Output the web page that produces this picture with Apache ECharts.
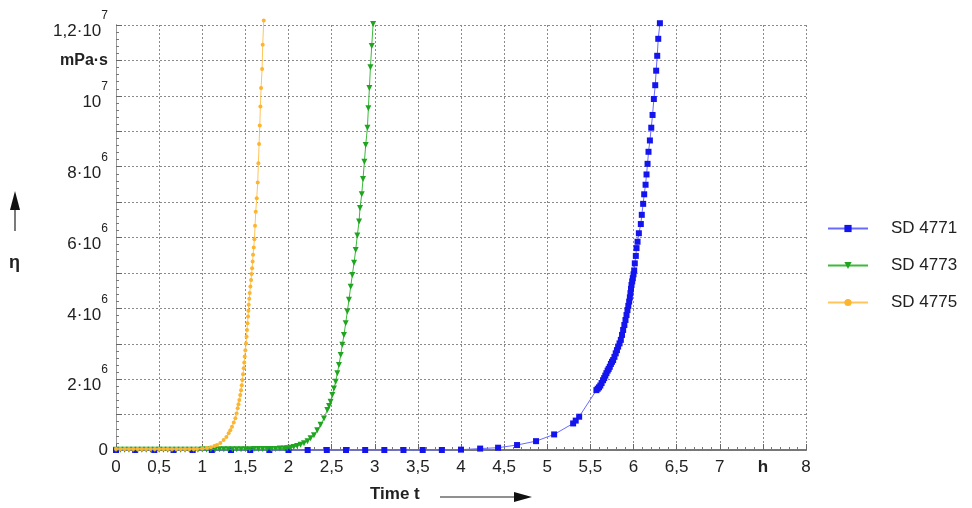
<!DOCTYPE html>
<html><head><meta charset="utf-8">
<script src="https://cdn.jsdelivr.net/npm/echarts@6/dist/echarts.min.js"></script>
<style>html,body{margin:0;padding:0;background:#fff}#c{width:972px;height:508px}</style>
</head><body><div id="c"></div>
<script>
// time in h, viscosity in 10^6 mPa·s
const sd4771_t = [0,0.222,0.444,0.667,0.889,1.111,1.333,1.556,1.778,2.0,2.222,2.444,2.667,2.889,3.111,3.333,3.556,3.778,4.0,4.222,4.43,4.65,4.87,5.08,5.30,5.33,5.37,
 5.570,5.585,5.600,5.615,5.630,5.647,5.660,5.673,5.686,5.700,5.712,5.725,5.738,5.751,5.764,5.779,5.794,5.808,5.822,5.838,5.853,5.867,5.880,5.894,5.907,5.919,5.930,5.940,5.950,5.958,5.965,5.971,5.977,5.985,5.992,6.000,6.008,6.015,6.027,6.035,6.047,6.062,
 6.085,6.096,6.112,6.124,6.140,6.151,6.163,6.174,6.190,6.206,6.221,6.236,6.252,6.263,6.275,6.287,6.306];
const sd4771_v = [0,0,0,0,0,0,0,0,0,0,0,0,0,0,0,0,0,0,0.01,0.04,0.065,0.14,0.25,0.44,0.75,0.83,0.94,
 1.69,1.73,1.77,1.82,1.89,1.97,2.03,2.10,2.17,2.24,2.29,2.35,2.43,2.49,2.54,2.63,2.73,2.82,2.92,3.01,3.11,3.25,3.39,3.53,3.67,3.81,3.95,4.07,4.19,4.31,4.43,4.55,4.66,4.76,4.85,4.96,5.07,5.27,5.48,5.70,5.88,6.12,
 6.38,6.64,6.95,7.22,7.49,7.78,8.08,8.42,8.74,9.10,9.46,9.91,10.30,10.71,11.13,11.61,12.05];

const sd4773_t = [0,0.05,0.1,0.15,0.2,0.25,0.3,0.35,0.4,0.45,0.5,0.55,0.6,0.65,0.7,0.75,0.8,0.85,0.9,0.95,1.0,1.05,1.1,1.15,1.2,1.25,1.3,1.35,1.4,1.45,1.5,1.55,1.6,1.65,1.7,1.75,1.8,1.85,1.9,1.95,1.984,2.02,2.06,2.10,2.14,2.18,2.22,2.256,2.295,2.333,2.372,2.411,2.450,2.470,2.488,2.508,2.527,2.547,2.566,2.585,2.605,2.624,2.643,2.663,2.682,2.701,2.721,2.740,2.760,2.779,2.798,2.818,2.829,2.849,2.864,2.880,2.895,2.915,2.926,2.938,2.950,2.965,2.981];
const sd4773_v = [0.01,0.01,0.01,0.01,0.01,0.01,0.01,0.01,0.01,0.01,0.01,0.01,0.01,0.01,0.01,0.01,0.01,0.01,0.01,0.01,0.015,0.015,0.015,0.015,0.02,0.02,0.02,0.02,0.02,0.02,0.02,0.02,0.025,0.025,0.025,0.03,0.03,0.03,0.04,0.045,0.05,0.065,0.085,0.11,0.15,0.19,0.25,0.33,0.42,0.56,0.71,0.89,1.13,1.24,1.36,1.55,1.74,1.93,2.17,2.40,2.68,2.97,3.25,3.58,3.91,4.24,4.61,4.94,5.29,5.65,6.06,6.45,6.83,7.22,7.65,8.14,8.61,9.10,9.65,10.22,10.81,11.41,12.03];

const sd4775_t = [0,0.05,0.1,0.15,0.2,0.25,0.3,0.35,0.4,0.45,0.5,0.55,0.6,0.65,0.7,0.75,0.8,0.85,0.9,0.94,1.0,1.055,1.10,1.14,1.171,1.21,1.248,1.28,1.306,1.325,1.345,1.365,1.384,1.398,1.411,1.420,1.430,1.440,1.450,1.458,1.465,1.473,1.481,1.487,1.492,1.500,1.508,1.514,1.519,1.525,1.531,1.535,1.539,1.545,1.550,1.558,1.566,1.572,1.578,1.584,1.589,1.597,1.605,1.612,1.620,1.632,1.643,1.651,1.659,1.667,1.674,1.682,1.694,1.701,1.713];
const sd4775_v = [0.03,0.03,0.03,0.03,0.03,0.03,0.03,0.03,0.03,0.03,0.03,0.03,0.03,0.03,0.03,0.03,0.03,0.03,0.03,0.03,0.04,0.06,0.08,0.11,0.14,0.20,0.28,0.37,0.47,0.56,0.66,0.78,0.90,1.03,1.18,1.29,1.41,1.55,1.69,1.83,1.98,2.14,2.31,2.47,2.64,2.82,3.01,3.20,3.39,3.58,3.77,3.93,4.10,4.27,4.43,4.62,4.80,4.97,5.13,5.32,5.51,5.72,5.95,6.33,6.73,7.11,7.55,8.10,8.64,9.16,9.70,10.22,10.76,11.44,12.13];

const seriesNames = ['SD 4771','SD 4773','SD 4775'];
const xTickLabels = {'0':'0','0.5':'0,5','1':'1','1.5':'1,5','2':'2','2.5':'2,5','3':'3','3.5':'3,5','4':'4','4.5':'4,5','5':'5','5.5':'5,5','6':'6','6.5':'6,5','7':'7','7.5':'{h|h}','8':'8'};
const yTickLabels = {0:'{z|0}',2:'{n|2·10}{s|6}',4:'{n|4·10}{s|6}',6:'{n|6·10}{s|6}',8:'{n|8·10}{s|6}',10:'{n|10}{s|7}',11:'{u|mPa·s}',12:'{n|1,2·10}{s|7}'};

function pairs(t,v){return t.map((x,i)=>[x,v[i]]);}

const FONT = '"Liberation Sans", Arial, sans-serif';
const chart = echarts.init(document.getElementById('c'), null, {renderer:'canvas'});
chart.setOption({
  animation:false,
  backgroundColor:'#fff',
  textStyle:{fontFamily:FONT},
  grid:{left:116,right:166,top:25,bottom:58,containLabel:false},
  legend:{
    orient:'vertical', left:822, top:215, itemWidth:40, itemHeight:9, itemGap:20,
    textStyle:{fontSize:17, color:'#222', fontFamily:FONT, padding:[0,0,0,18]},
    data:seriesNames
  },
  xAxis:[{
    type:'value', min:0, max:8, interval:0.5, position:'bottom',
    axisLine:{show:true,lineStyle:{color:'#666',width:1}},
    axisTick:{show:true,inside:true,length:6,lineStyle:{color:'#666'}},
    minorTick:{show:true,splitNumber:5,length:3,lineStyle:{color:'#777'}},
    splitLine:{show:true,lineStyle:{color:'#8a8a8a',type:[2,2],width:1}},
    axisLabel:{fontSize:17,color:'#222',margin:9,fontFamily:FONT,
      formatter:v=>{const k=String(Math.round(v*10)/10);return xTickLabels[k]!==undefined?xTickLabels[k]:'';},
      rich:{h:{fontSize:17,fontWeight:'bold',color:'#222',fontFamily:FONT}}}
  },{
    type:'value', min:0, max:8, position:'top',
    axisLine:{show:true,lineStyle:{color:'#777',width:2}},
    axisTick:{show:false}, axisLabel:{show:false}, splitLine:{show:false}
  }],
  yAxis:[{
    type:'value', min:0, max:12, interval:1,
    axisLine:{show:true,lineStyle:{color:'#666',width:1}},
    axisTick:{show:true,inside:true,length:6,lineStyle:{color:'#666'}},
    minorTick:{show:true,splitNumber:5,length:3,lineStyle:{color:'#777'}},
    splitLine:{show:true,lineStyle:{color:'#8a8a8a',type:[2,2],width:1}},
    axisLabel:{color:'#222',fontSize:17,margin:8,fontFamily:FONT,
      formatter:v=>{const k=Math.round(v);return yTickLabels[k]!==undefined?yTickLabels[k]:'';},
      rich:{
        z:{fontSize:17,color:'#222',fontFamily:FONT},
        n:{fontSize:17,lineHeight:30,verticalAlign:'bottom',color:'#222',fontFamily:FONT},
        s:{fontSize:12,lineHeight:12,verticalAlign:'top',color:'#222',fontFamily:FONT},
        u:{fontSize:16,fontWeight:'bold',color:'#222',fontFamily:FONT}
      }}
  },{
    type:'value', min:0, max:12, position:'right',
    axisLine:{show:true,lineStyle:{color:'#999',width:1}},
    axisTick:{show:false}, axisLabel:{show:false}, splitLine:{show:false}
  }],
  series:[
    {name:seriesNames[0], type:'line', data:pairs(sd4771_t,sd4771_v), clip:false,
     symbol:'rect', symbolSize:6, z:3,
     lineStyle:{color:'#6a6aff',width:1}, itemStyle:{color:'#1414ee'}},
    {name:seriesNames[1], type:'line', data:pairs(sd4773_t,sd4773_v), clip:false,
     symbol:'triangle', symbolRotate:180, symbolSize:6, z:4,
     lineStyle:{color:'#3cba3c',width:1}, itemStyle:{color:'#1fa51f'}},
    {name:seriesNames[2], type:'line', data:pairs(sd4775_t,sd4775_v), clip:false,
     symbol:'circle', symbolSize:4, z:5,
     lineStyle:{color:'#ffc55a',width:1}, itemStyle:{color:'#fbb530'}}
  ],
  graphic:[
    {type:'text', left:370, top:486, style:{text:'Time t', fontSize:17, fontWeight:'bold', fill:'#222', fontFamily:FONT}},
    {type:'line', shape:{x1:440,y1:497,x2:518,y2:497}, style:{stroke:'#222',lineWidth:1.2}},
    {type:'polygon', shape:{points:[[532,497],[514,492],[514,502]]}, style:{fill:'#111'}},
    {type:'line', shape:{x1:15,y1:231,x2:15,y2:206}, style:{stroke:'#222',lineWidth:1.2}},
    {type:'polygon', shape:{points:[[15,191],[10,210],[20,210]]}, style:{fill:'#111'}},
    {type:'text', left:9, top:254, style:{text:'η', fontSize:18, fontWeight:'bold', fill:'#222', fontFamily:FONT}}
  ]
});
</script></body></html>
